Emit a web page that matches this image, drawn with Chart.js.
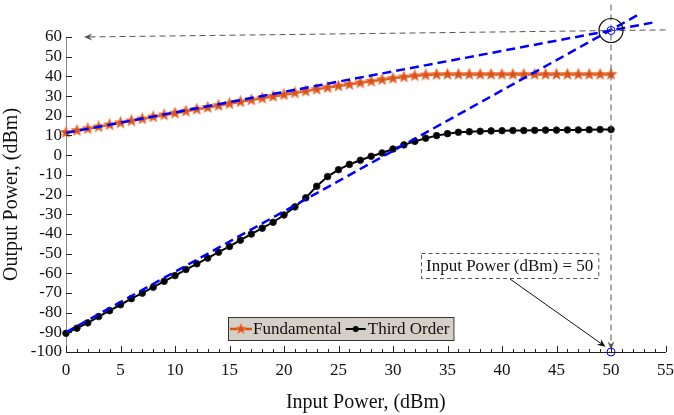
<!DOCTYPE html>
<html>
<head>
<meta charset="utf-8">
<script src="https://cdn.jsdelivr.net/npm/chart.js@4/dist/chart.umd.min.js"></script>
<style>
  html, body { margin: 0; padding: 0; background: #ffffff; }
  #wrap { width: 674px; height: 415px; }
</style>
</head>
<body>
<div id="wrap"><canvas id="c" width="674" height="415"></canvas></div>
<script>
// ---------------- data ----------------
const inputPower = [0,1,2,3,4,5,6,7,8,9,10,11,12,13,14,15,16,17,18,19,20,21,22,23,24,25,26,27,28,29,30,31,32,33,34,35,36,37,38,39,40,41,42,43,44,45,46,47,48,49,50];
const fundamental = [11.5,12.5,13.4,14.4,15.4,16.4,17.4,18.4,19.4,20.4,21.3,22.3,23.3,24.2,25.2,26.1,27.1,28.0,28.9,29.8,30.7,31.6,32.5,33.4,34.3,35.1,35.9,36.7,37.5,38.3,39.0,39.7,40.3,40.7,40.9,41.0,41.0,41.0,41.0,41.0,41.0,41.0,41.0,41.0,41.0,41.0,41.0,41.0,41.0,41.0,41.0];
const thirdOrder = [-90.5,-87.9,-85.2,-82.0,-79.0,-76.0,-72.9,-70.1,-67.1,-64.1,-61.2,-58.1,-55.2,-52.3,-49.3,-46.4,-43.2,-40.1,-37.1,-34.1,-30.4,-26.3,-21.7,-15.8,-10.9,-7.4,-4.7,-2.6,-0.6,1.1,3.1,5.2,7.0,8.6,9.9,10.9,11.6,11.9,12.1,12.3,12.4,12.5,12.5,12.6,12.7,12.7,12.8,12.8,12.9,13.0,13.0];
const fundTangentX = [0, 53.8];
const fundTangentY = [11.3, 67.3];
const thirdTangentX = [0, 52.5];
const thirdTangentY = [-90.0, 71.3];
const interceptX = 50;
const interceptY = 63.3;
const xTicks = [0,5,10,15,20,25,30,35,40,45,50,55];
const yTicks = [-100,-90,-80,-70,-60,-50,-40,-30,-20,-10,0,10,20,30,40,50,60];
const seriesNames = ['Fundamental', 'Third Order'];
const xTitle = 'Input Power, (dBm)';
const yTitle = 'Output Power, (dBm)';
const noteText = 'Input Power (dBm) = 50';

// ---------------- styles ----------------
const FONT = "'Liberation Serif', 'Times New Roman', serif";
const ORANGE = '#D95319';
const BLUE = '#0000FF';

function makeStar(size, fill, edge) {
  const c = document.createElement('canvas');
  c.width = size; c.height = size;
  const g = c.getContext('2d');
  const cx = size / 2, cy = size / 2, R = size / 2 - 0.5, r = R * 0.45;
  g.beginPath();
  for (let i = 0; i < 10; i++) {
    const a = -Math.PI / 2 + i * Math.PI / 5;
    const rr = i % 2 === 0 ? R : r;
    const px = cx + rr * Math.cos(a), py = cy + rr * Math.sin(a);
    if (i === 0) g.moveTo(px, py); else g.lineTo(px, py);
  }
  g.closePath();
  g.fillStyle = fill; g.fill();
  g.lineWidth = 1; g.strokeStyle = edge; g.stroke();
  return c;
}
const starImg = makeStar(13, ORANGE, '#F08A5D');
const starSmall = makeStar(12, ORANGE, '#F08A5D');

const pts = (xs, ys) => xs.map((x, i) => ({ x: x, y: ys[i] }));

function arrow(ctx, x1, y1, x2, y2, color, dash, head) {
  ctx.save();
  ctx.strokeStyle = color; ctx.fillStyle = color; ctx.lineWidth = 1;
  ctx.setLineDash(dash || []);
  const ang = Math.atan2(y2 - y1, x2 - x1);
  const h = head || 9;
  ctx.beginPath(); ctx.moveTo(x1, y1);
  ctx.lineTo(x2 - Math.cos(ang) * h * 0.6, y2 - Math.sin(ang) * h * 0.6);
  ctx.stroke();
  ctx.setLineDash([]);
  ctx.beginPath();
  ctx.moveTo(x2, y2);
  ctx.lineTo(x2 - h * Math.cos(ang - 0.4), y2 - h * Math.sin(ang - 0.4));
  ctx.lineTo(x2 - h * 0.6 * Math.cos(ang), y2 - h * 0.6 * Math.sin(ang));
  ctx.lineTo(x2 - h * Math.cos(ang + 0.4), y2 - h * Math.sin(ang + 0.4));
  ctx.closePath(); ctx.fill();
  ctx.restore();
}

const decor = {
  id: 'decor',
  afterDraw(chart) {
    const ctx = chart.ctx, xs = chart.scales.x, ys = chart.scales.y, ca = chart.chartArea;
    ctx.save();
    // inward tick marks
    ctx.strokeStyle = '#222'; ctx.lineWidth = 1;
    for (let v = xs.min; v <= xs.max; v++) {
      const px = Math.round(xs.getPixelForValue(v)) + 0.5;
      const len = (v % 5 === 0) ? 6 : 3;
      ctx.beginPath(); ctx.moveTo(px, ca.bottom); ctx.lineTo(px, ca.bottom - len); ctx.stroke();
    }
    yTicks.forEach(v => {
      const py = Math.round(ys.getPixelForValue(v)) + 0.5;
      ctx.beginPath(); ctx.moveTo(ca.left, py); ctx.lineTo(ca.left + 6, py); ctx.stroke();
    });

    // grey dashed guide lines with arrows
    const gx = xs.getPixelForValue(interceptX), gy = ys.getPixelForValue(interceptY);
    arrow(ctx, xs.getPixelForValue(55), ys.getPixelForValue(interceptY + 0.3),
          xs.getPixelForValue(1.65), ys.getPixelForValue(60), '#555', [6, 4], 9);
    arrow(ctx, gx, ys.getPixelForValue(76.5), gx, ys.getPixelForValue(-98.8), '#555', [6, 4], 9);

    // circle around intercept + small blue markers
    ctx.strokeStyle = '#111'; ctx.lineWidth = 1.2;
    ctx.beginPath(); ctx.arc(gx, gy, 12, 0, Math.PI * 2); ctx.stroke();
    ctx.strokeStyle = BLUE; ctx.lineWidth = 1;
    ctx.beginPath(); ctx.arc(gx, gy, 4, 0, Math.PI * 2); ctx.stroke();
    ctx.beginPath(); ctx.arc(gx, ys.getPixelForValue(-100), 4, 0, Math.PI * 2); ctx.stroke();

    // annotation text box
    ctx.font = '17px ' + FONT;
    const tw = ctx.measureText(noteText).width;
    const bx = 421, by = 253, bw = tw + 10, bh = 25;
    ctx.fillStyle = '#fff'; ctx.fillRect(bx, by, bw, bh);
    ctx.strokeStyle = '#555'; ctx.lineWidth = 1; ctx.setLineDash([4, 3]);
    ctx.strokeRect(bx + 0.5, by + 0.5, bw, bh);
    ctx.setLineDash([]);
    ctx.fillStyle = '#111'; ctx.textBaseline = 'middle'; ctx.textAlign = 'left';
    ctx.fillText(noteText, bx + 5, by + bh / 2 + 1);
    arrow(ctx, 510, 279, xs.getPixelForValue(49.5), ys.getPixelForValue(-97.3), '#111', [], 9);

    // legend
    ctx.font = '17px ' + FONT;
    const lx = 228, ly = 317, lh = 23;
    const w1 = ctx.measureText(seriesNames[0]).width, w2 = ctx.measureText(seriesNames[1]).width;
    const lw = 2 + 22 + 1 + w1 + 4 + 22 + 1 + w2 + 3;
    ctx.fillStyle = '#D4D0C8'; ctx.fillRect(lx, ly, lw, lh);
    ctx.strokeStyle = '#333'; ctx.lineWidth = 1; ctx.strokeRect(lx + 0.5, ly + 0.5, lw, lh);
    const cy = ly + lh / 2 + 0.5;
    let cx = lx + 2;
    ctx.strokeStyle = ORANGE; ctx.lineWidth = 2.5;
    ctx.beginPath(); ctx.moveTo(cx, cy); ctx.lineTo(cx + 22, cy); ctx.stroke();
    ctx.drawImage(starSmall, cx + 11 - 6, cy - 6);
    cx += 23;
    ctx.fillStyle = '#111'; ctx.textBaseline = 'middle';
    ctx.fillText(seriesNames[0], cx, cy + 1);
    cx += w1 + 4;
    ctx.strokeStyle = '#000'; ctx.lineWidth = 2;
    ctx.beginPath(); ctx.moveTo(cx, cy); ctx.lineTo(cx + 20, cy); ctx.stroke();
    ctx.fillStyle = '#000'; ctx.beginPath(); ctx.arc(cx + 10, cy, 3, 0, Math.PI * 2); ctx.fill();
    cx += 22;
    ctx.fillStyle = '#111';
    ctx.fillText(seriesNames[1], cx, cy + 1);
    ctx.restore();
  }
};

Chart.defaults.font.family = FONT;
Chart.defaults.color = '#111';

new Chart(document.getElementById('c'), {
  type: 'line',
  data: {
    datasets: [
      { label: 'FundTangent', data: pts(fundTangentX, fundTangentY), borderColor: BLUE, borderWidth: 2.5,
        borderDash: [9, 5], pointRadius: 0, clip: false, order: 0, tension: 0 },
      { label: 'ThirdTangent', data: pts(thirdTangentX, thirdTangentY), borderColor: BLUE, borderWidth: 2.5,
        borderDash: [9, 5], pointRadius: 0, clip: false, order: 0, tension: 0 },
      { label: seriesNames[0], data: pts(inputPower, fundamental), borderColor: ORANGE, borderWidth: 2.5,
        pointStyle: starImg, pointRadius: 6, clip: false, order: 2, tension: 0 },
      { label: seriesNames[1], data: pts(inputPower, thirdOrder), borderColor: '#000', borderWidth: 2,
        pointStyle: 'circle', pointRadius: 3.3, pointBackgroundColor: '#000', pointBorderColor: '#222',
        pointBorderWidth: 1, clip: false, order: 1, tension: 0 }
    ]
  },
  options: {
    responsive: false,
    animation: false,
    devicePixelRatio: 1,
    layout: { padding: { left: 0, right: 8, top: 37, bottom: 0 } },
    plugins: { legend: { display: false }, tooltip: { enabled: false } },
    scales: {
      x: {
        type: 'linear', min: 0, max: 55,
        afterBuildTicks: s => { s.ticks = xTicks.map(v => ({ value: v })); },
        afterFit: s => { s.height = 63; s.paddingLeft = 0; s.paddingRight = 0; },
        grid: { display: false, drawTicks: false },
        border: { display: true, color: '#222', width: 1 },
        ticks: { font: { size: 17 }, color: '#111', padding: 8, maxRotation: 0, autoSkip: false },
        title: { display: true, text: xTitle, font: { size: 20 }, color: '#111', padding: { top: 6, bottom: 0 } }
      },
      y: {
        type: 'linear', min: -100, max: 60,
        afterBuildTicks: s => { s.ticks = yTicks.map(v => ({ value: v })); },
        afterFit: s => { s.width = 66; s.paddingTop = 0; s.paddingBottom = 0; },
        grid: { display: false, drawTicks: false },
        border: { display: true, color: '#8a8a8a', width: 1 },
        ticks: { font: { size: 17 }, color: '#111', padding: 4, autoSkip: false },
        title: { display: true, text: yTitle, font: { size: 20 }, color: '#111', padding: { top: 0, bottom: 4 } }
      }
    }
  },
  plugins: [decor]
});
</script>
</body>
</html>
